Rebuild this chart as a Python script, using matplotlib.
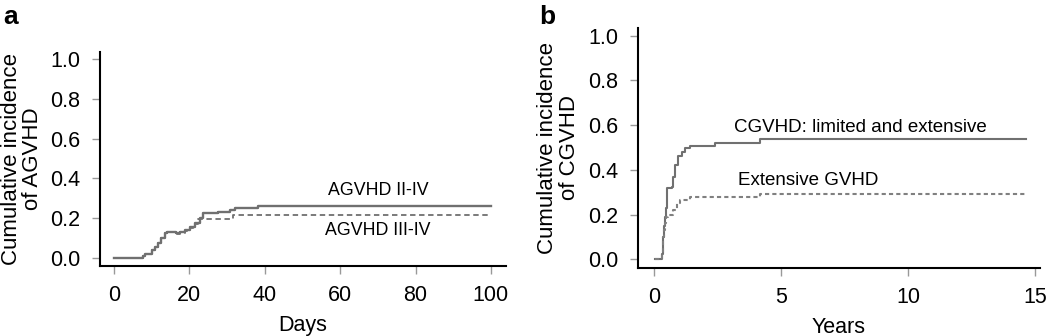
import matplotlib.pyplot as plt

plt.rcParams['font.family'] = ['Liberation Sans', 'DejaVu Sans']

# panel a: acute GVHD, days
days_2_4 = [0, 7.7, 8.2, 10, 11, 11.7, 12.6, 13.5, 14, 16.6, 17.5, 18.8, 20.2, 21.5, 22.8, 23.7, 27.7, 30.8, 32, 38.3, 100]
inc_2_4 = [0, 0.01, 0.02, 0.04, 0.057, 0.075, 0.1, 0.125, 0.13, 0.125, 0.13, 0.14, 0.157, 0.175, 0.2, 0.225, 0.23, 0.24, 0.25, 0.261, 0.261]
days_3_4 = [0, 7.7, 8.2, 10, 11, 11.7, 12.6, 13.5, 14, 16.6, 17.5, 18.8, 20.2, 21.5, 22.4, 31.7, 100]
inc_3_4 = [0, 0.01, 0.02, 0.04, 0.057, 0.075, 0.1, 0.125, 0.13, 0.12, 0.125, 0.135, 0.15, 0.17, 0.195, 0.218, 0.218]

# panel b: chronic GVHD, years
yrs_all = [0.04, 0.3, 0.34, 0.37, 0.4, 0.43, 0.47, 0.5, 0.52, 0.7, 0.76, 0.83, 0.96, 1.09, 1.22, 1.42, 2.4, 4.17, 14.65]
inc_all = [0, 0.025, 0.06, 0.1, 0.15, 0.19, 0.23, 0.265, 0.317, 0.325, 0.37, 0.42, 0.46, 0.48, 0.496, 0.508, 0.52, 0.538, 0.538]
yrs_ext = [0.04, 0.3, 0.34, 0.37, 0.4, 0.43, 0.47, 0.56, 0.76, 0.89, 1.02, 1.42, 4.17, 14.65]
inc_ext = [0, 0.025, 0.06, 0.1, 0.13, 0.16, 0.19, 0.2, 0.22, 0.25, 0.265, 0.277, 0.294, 0.294]

yticks = [0.0, 0.2, 0.4, 0.6, 0.8, 1.0]

fig = plt.figure(figsize=(10.5, 3.36), dpi=100)
ax1 = fig.add_axes([0.0952, 0.2083, 0.3867, 0.6367])
ax2 = fig.add_axes([0.6076, 0.2024, 0.3829, 0.7143])


def style(ax):
    for s in ['top', 'right']:
        ax.spines[s].set_visible(False)
    for s in ['left', 'bottom']:
        ax.spines[s].set_linewidth(1.5)
    ax.tick_params(direction='out', length=6, width=1, color='#999999',
                   labelsize=15.5, pad=8)
    ax.set_yticks(yticks)
    ax.set_yticklabels(['%.1f' % v for v in yticks])


ax1.step(days_2_4, inc_2_4, where='post', color='#707070', lw=1.7)
ax1.step(days_3_4, inc_3_4, where='post', color='#707070', lw=1.3, ls=(0, (3, 2)))
ax1.set_xlim(-3.7, 104)
ax1.set_ylim(-0.04, 1.035)
ax1.set_xticks([0, 20, 40, 60, 80, 100])
style(ax1)
ax1.set_xlabel('Days', fontsize=15.5, labelpad=6)
ax1.set_ylabel('Cumulative incidence\nof AGVHD', fontsize=16, labelpad=5, linespacing=1.05)
ax1.text(70, 0.337, 'AGVHD II-IV', fontsize=12.8, ha='center', va='center')
ax1.text(70, 0.136, 'AGVHD III-IV', fontsize=12.8, ha='center', va='center')

ax2.step(yrs_all, inc_all, where='post', color='#707070', lw=1.5)
ax2.step(yrs_ext, inc_ext, where='post', color='#808080', lw=1.5, ls=(0, (2, 1.5)))
ax2.set_xlim(-0.63, 15.2)
ax2.set_ylim(-0.039, 1.034)
ax2.set_xticks([0, 5, 10, 15])
style(ax2)
ax2.set_xlabel('Years', fontsize=15.5, labelpad=6)
ax2.set_ylabel('Cumulative incidence\nof CGVHD', fontsize=16, labelpad=6, linespacing=1.05)
ax2.text(3.15, 0.59, 'CGVHD: limited and extensive', fontsize=13.5, ha='left', va='center')
ax2.text(3.3, 0.35, 'Extensive GVHD', fontsize=13.5, ha='left', va='center')

fig.text(0.003, 0.985, 'a', fontsize=19, fontweight='bold', va='top')
fig.text(0.514, 0.985, 'b', fontsize=19, fontweight='bold', va='top')

fig.savefig('out.png', dpi=100)
